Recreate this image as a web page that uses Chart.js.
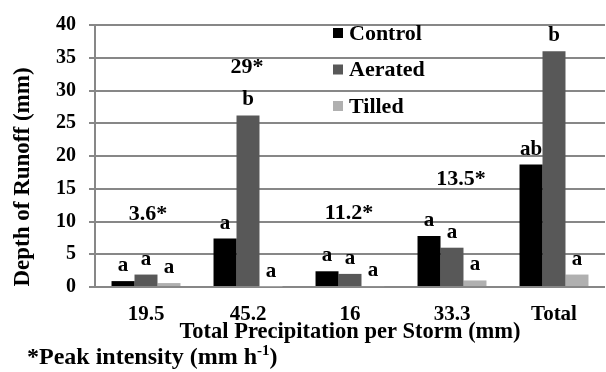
<!DOCTYPE html>
<html>
<head>
<meta charset="utf-8">
<script src="https://cdn.jsdelivr.net/npm/chart.js@4.4.1/dist/chart.umd.min.js"></script>
<style>
  html, body { margin: 0; padding: 0; background: #fff; }
  #wrap { width: 606px; height: 372px; }
</style>
</head>
<body>
<div id="wrap"><canvas id="runoffChart" width="606" height="372"></canvas></div>
<script>
// storm categories (total precipitation, mm)
const storms = ['19.5', '45.2', '16', '33.3', 'Total'];

// depth of runoff (mm)
const control = [0.9, 7.4, 2.4, 7.8, 18.7];
const aerated = [1.9, 26.2, 2.0, 6.0, 36.0];
const tilled = [0.6, 0.05, 0.12, 1.0, 1.9];

// significance letters
const controlLetters = ['a', 'a', 'a', 'a', 'ab'];
const aeratedLetters = ['a', 'b', 'a', 'a', 'b'];
const tilledLetters = ['a', 'a', 'a', 'a', 'a'];

// peak intensity (mm h-1) per storm
const peakIntensity = ['3.6', '29', '11.2', '13.5', null];

const yTicks = [0, 5, 10, 15, 20, 25, 30, 35, 40];

const serif = "'Liberation Serif', 'DejaVu Serif', serif";
const gridGray = '#878787';

// letters above each bar
const letterPlugin = {
  id: 'letters',
  afterDatasetsDraw(chart) {
    const ctx = chart.ctx;
    ctx.save();
    ctx.font = 'bold 21px ' + serif;
    ctx.fillStyle = '#000';
    ctx.textAlign = 'center';
    ctx.textBaseline = 'alphabetic';
    chart.data.datasets.forEach((ds, di) => {
      chart.getDatasetMeta(di).data.forEach((bar, i) => {
        ctx.fillText(ds.letters[i], bar.x, bar.y - 10);
      });
    });
    ctx.restore();
  }
};

// peak intensity labels, legend, y title and footnote
const extrasPlugin = {
  id: 'extras',
  afterDraw(chart, args, opts) {
    const ctx = chart.ctx;
    const xs = chart.scales.x, ys = chart.scales.y;
    ctx.save();
    ctx.fillStyle = '#000';

    // peak intensity
    ctx.font = 'bold 22px ' + serif;
    ctx.textAlign = 'center';
    ctx.textBaseline = 'middle';
    peakIntensity.forEach((p, i) => {
      if (p === null) return;
      const pos = opts.peakPos[i];
      ctx.fillText(p + '*', xs.getPixelForValue(i) + pos.dx, ys.getPixelForValue(pos.y));
    });

    // legend
    ctx.textAlign = 'left';
    chart.data.datasets.forEach((ds, i) => {
      const y = 33 + i * 36.5;
      ctx.fillStyle = ds.backgroundColor;
      ctx.fillRect(333, y - 5, 10, 10);
      ctx.fillStyle = '#000';
      ctx.fillText(ds.label, 349, y + 1);
    });

    // y title
    ctx.save();
    ctx.translate(23, 177);
    ctx.rotate(-Math.PI / 2);
    ctx.textAlign = 'center';
    ctx.font = 'bold 23px ' + serif;
    ctx.fillText('Depth of Runoff (mm)', 0, 0);
    ctx.restore();

    // footnote
    ctx.textAlign = 'left';
    ctx.textBaseline = 'alphabetic';
    ctx.font = 'bold 24px ' + serif;
    let x = 27;
    const base = 364;
    const t1 = '*Peak intensity (mm h';
    ctx.fillText(t1, x, base);
    x += ctx.measureText(t1).width;
    ctx.font = 'bold 15px ' + serif;
    ctx.fillText('-1', x, base - 9);
    x += ctx.measureText('-1').width;
    ctx.font = 'bold 24px ' + serif;
    ctx.fillText(')', x, base);
    ctx.restore();
  }
};

function drawChart() {
  new Chart(document.getElementById('runoffChart'), {
    type: 'bar',
    data: {
      labels: storms,
      datasets: [
        { label: 'Control', data: control, letters: controlLetters, backgroundColor: '#000000' },
        { label: 'Aerated', data: aerated, letters: aeratedLetters, backgroundColor: '#585858' },
        { label: 'Tilled', data: tilled, letters: tilledLetters, backgroundColor: '#b0b0b0' }
      ]
    },
    options: {
      responsive: false,
      animation: false,
      devicePixelRatio: 1,
      layout: { padding: { top: 22, right: 1, bottom: 25, left: 0 } },
      datasets: { bar: { categoryPercentage: 0.676, barPercentage: 1, borderWidth: 0 } },
      plugins: {
        legend: { display: false },
        tooltip: { enabled: false },
        extras: {
          peakPos: [
            { dx: 2, y: 11.1 },
            { dx: -1, y: 33.5 },
            { dx: -1, y: 11.2 },
            { dx: 9, y: 16.5 }
          ]
        }
      },
      scales: {
        x: {
          grid: { display: false, drawTicks: false },
          border: { display: false },
          ticks: { color: '#000', font: { family: serif, size: 21, weight: 'bold' }, padding: 15 },
          title: {
            display: true,
            text: 'Total Precipitation per Storm (mm)',
            color: '#000',
            font: { family: serif, size: 22.5, weight: 'bold' },
            padding: { top: 0, bottom: 1 }
          },
          afterFit(s) { s.height = 60; }
        },
        y: {
          min: 0,
          max: 40,
          afterBuildTicks(s) { s.ticks = yTicks.map(v => ({ value: v })); },
          grid: { color: gridGray, lineWidth: 2, tickLength: 6 },
          border: { color: gridGray, width: 2 },
          ticks: { color: '#000', font: { family: serif, size: 20, weight: 'bold' }, padding: 13 },
          afterFit(s) { s.width = 95; }
        }
      }
    },
    plugins: [letterPlugin, extrasPlugin]
  });
}

if (document.fonts && document.fonts.load) {
  document.fonts.load("bold 20px 'Liberation Serif'").then(drawChart, drawChart);
} else {
  drawChart();
}
</script>
</body>
</html>
